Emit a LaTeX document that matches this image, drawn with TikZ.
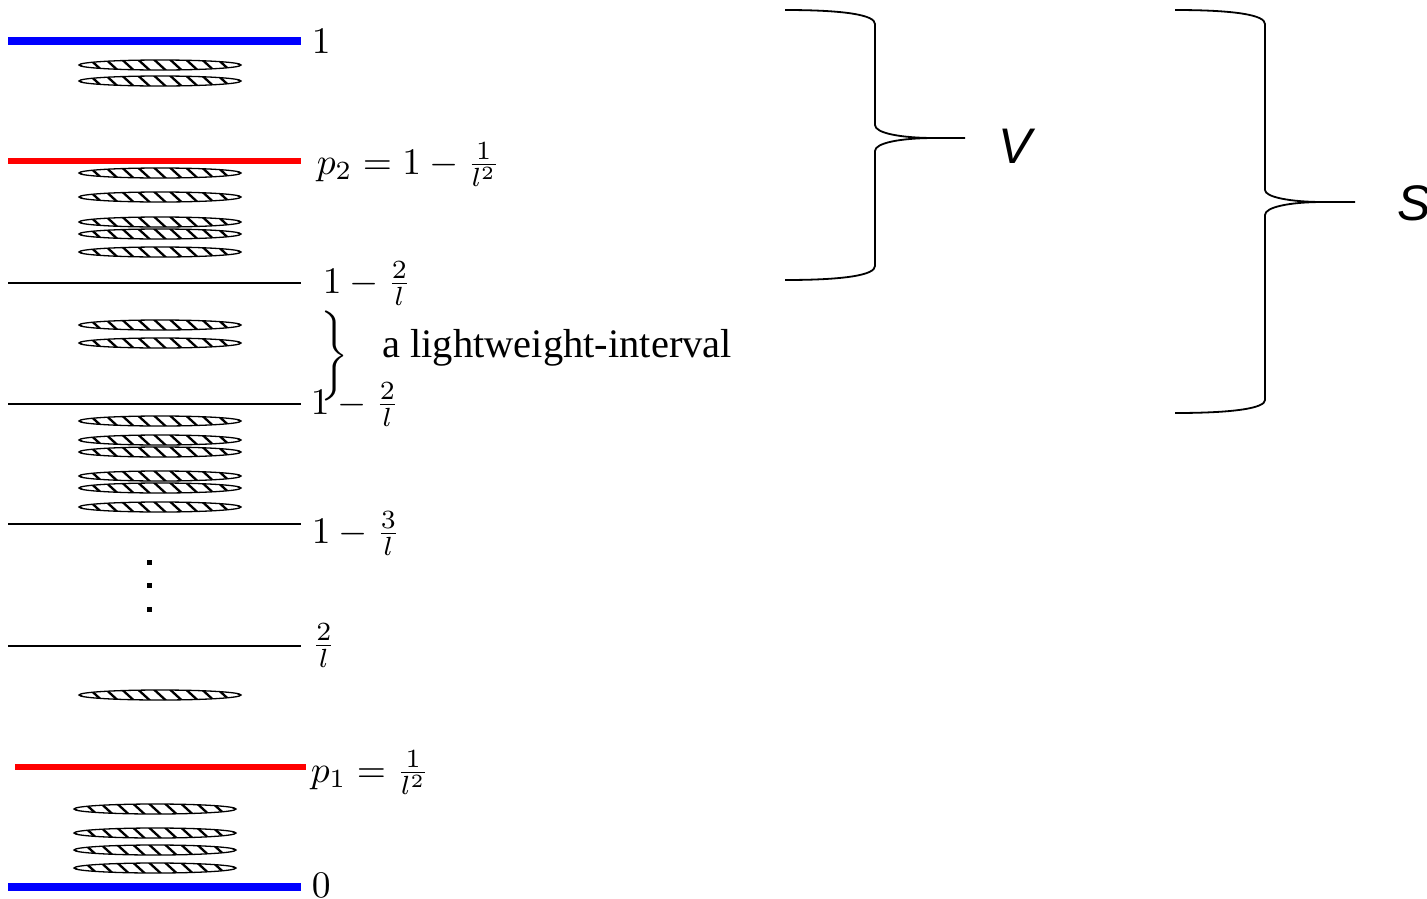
\documentclass[tikz,border=0pt]{standalone}
\usepackage{fontspec}
\newfontfamily\timesf{Liberation Serif}
\newfontfamily\arialf{Liberation Sans}
\tikzset{
  disc/.pic={
    \begin{scope}
      \clip (0,0) ellipse [x radius=81pt, y radius=5pt];
      \foreach \i in {-96,-80,...,96} \draw[line width=2.3pt] (\i-6,-5.5) -- (\i+6,5.5);
    \end{scope}
    \draw[line width=1.3pt] (0,0) ellipse [x radius=81pt, y radius=5pt];
  }
}
\begin{document}
\begin{tikzpicture}[x=1pt,y=-1pt,
  bluebar/.style={blue, line width=8pt},
  redbar/.style={red, line width=5.5pt},
  thinbar/.style={black, line width=1.3pt},
  lab/.style={anchor=base west, inner sep=0pt, scale=3.75, transform shape},
  bracepath/.style={line width=1.8pt},
  dotsq/.style={fill=black, minimum size=5pt, inner sep=0pt}]
\useasboundingbox (0,0) rectangle (1427,898);

% levels
\draw[bluebar] (8,41) -- (301,41);
\node[lab] (l1) at (311,53) {$1$};
\draw[redbar] (8,161) -- (301,161);
\node[lab] (lp2) at (316,174) {$p_2=1-\frac{1}{l^2}$};
\draw[thinbar] (8,283) -- (301,283);
\node[lab] (la) at (322,293) {$1-\frac{2}{l}$};
\draw[thinbar] (8,404) -- (301,404);
\node[lab] (lb) at (310,414) {$1-\frac{2}{l}$};
\draw[thinbar] (8,524) -- (301,524);
\node[lab] (lc) at (311,543) {$1-\frac{3}{l}$};
\draw[thinbar] (8,646) -- (301,646);
\node[lab] (ld) at (311,655) {$\frac{2}{l}$};
\draw[redbar] (15,767) -- (306,767);
\node[lab] (lp1) at (310,782) {$p_1=\frac{1}{l^2}$};
\draw[bluebar] (8,887) -- (301,887);
\node[lab] (l0) at (311,897) {$0$};

% discs
\foreach \y in {65,81,173,197,222,234,252,325,343,421,440,452,476,488,507,695}
  \pic at (160,\y) {disc};
\foreach \y in {809,833,850,868}
  \pic at (155,\y) {disc};

% dots
\node[dotsq] (d1) at (149,562) {};
\node[dotsq] (d2) at (149,585) {};
\node[dotsq] (d3) at (149,609) {};

% lightweight interval
\node[inner sep=0pt, scale=3.75, transform shape] (br) at (335,356) {$\bigg\}$};
\node[anchor=base west, inner sep=0pt, font=\timesf\fontsize{40.5}{44}\selectfont] (lw) at (382,357) {a lightweight-interval};

% V brace
\draw[bracepath] (785,10) .. controls (845,10) and (875,15) .. (875,24) -- (875,125)
  .. controls (875,133) and (900,138) .. (935,138) -- (965,138);
\draw[bracepath] (935,138) .. controls (900,138) and (875,143) .. (875,151) -- (875,266)
  .. controls (875,275) and (845,280) .. (785,280);
\node[anchor=base west, inner sep=0pt, font=\arialf\itshape\fontsize{50}{54}\selectfont] (V) at (998,163) {V};

% S brace
\draw[bracepath] (1175,10) .. controls (1235,10) and (1265,15) .. (1265,24) -- (1265,190)
  .. controls (1265,197) and (1290,202) .. (1323,202) -- (1355,202);
\draw[bracepath] (1323,202) .. controls (1290,202) and (1265,207) .. (1265,215) -- (1265,400)
  .. controls (1265,408) and (1235,413) .. (1175,413);
\node[anchor=base west, inner sep=0pt, font=\arialf\itshape\fontsize{50}{54}\selectfont] (S) at (1397,220) {S};
\end{tikzpicture}
\end{document}
